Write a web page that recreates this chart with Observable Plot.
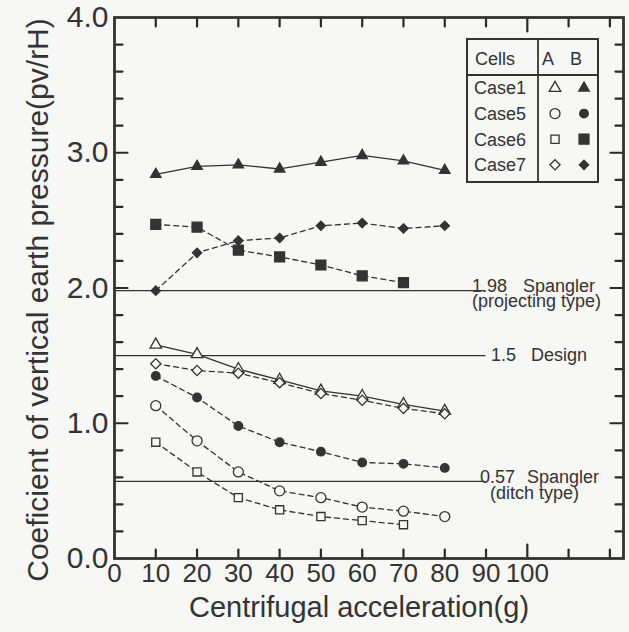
<!DOCTYPE html>
<html><head><meta charset="utf-8">
<script src="https://cdn.jsdelivr.net/npm/d3@7"></script>
<script src="https://cdn.jsdelivr.net/npm/@observablehq/plot@0.6"></script>
<style>
body{margin:0;background:#f7f7f5;}
#chart{position:relative;width:629px;height:632px;}
</style>
</head><body><div id="chart"></div>
<script>
// ---- data ----
const accel = [10, 20, 30, 40, 50, 60, 70, 80];
const case1A = [1.58, 1.51, 1.40, 1.32, 1.24, 1.20, 1.14, 1.09];
const case1B = [2.84, 2.90, 2.91, 2.88, 2.93, 2.98, 2.94, 2.87];
const case5A = [1.13, 0.87, 0.64, 0.50, 0.45, 0.38, 0.35, 0.31];
const case5B = [1.35, 1.19, 0.98, 0.86, 0.79, 0.71, 0.70, 0.67];
const case6A = [0.86, 0.64, 0.45, 0.36, 0.31, 0.28, 0.25];
const case6B = [2.47, 2.45, 2.28, 2.23, 2.17, 2.09, 2.04];
const case7A = [1.44, 1.39, 1.37, 1.30, 1.22, 1.17, 1.11, 1.07];
const case7B = [1.98, 2.26, 2.35, 2.37, 2.46, 2.48, 2.44, 2.46];
const refValues = [1.98, 1.5, 0.57];
const refNames = ["Spangler", "Design", "Spangler"];
const refSubs = ["(projecting type)", "", "(ditch type)"];
const legendCases = ["Case1", "Case5", "Case6", "Case7"];
const legendCells = ["A", "B"];
const xTickLabels = [0, 10, 20, 30, 40, 50, 60, 70, 80, 90, 100];
const yTickLabels = [0, 1, 2, 3, 4];
const xTicks = [10, 20, 30, 40, 50, 60, 70, 80, 90, 100, 110, 120];
const yTicks = [0.2, 0.4, 0.6, 0.8, 1, 1.2, 1.4, 1.6, 1.8, 2, 2.2, 2.4, 2.6, 2.8, 3, 3.2, 3.4, 3.6, 3.8];
const xLabel = "Centrifugal acceleration(g)";
const yLabel = "Coeficient of vertical earth pressure(pv/rH)";

// ---- styles ----
const ink = "#333";
const bg = "#f7f7f5";
const W = 629, H = 632, mL = 114, mR = 6, mT = 17, mB = 74;
const fw = W - mL - mR, fh = H - mT - mB;
const xMax = 123.3, yMax = 4;
const pxX = xMax / fw, pxY = yMax / fh;
const look = {
  Case1: {symbol: "triangle", dash: null, rA: 4.3, rB: 3.9, d3s: d3.symbolTriangle},
  Case5: {symbol: "circle", dash: "5,4", rA: 5, rB: 4.3, d3s: d3.symbolCircle},
  Case6: {symbol: "square", dash: "5,4", rA: 4.6, rB: 5.6, d3s: d3.symbolSquare},
  Case7: {symbol: "diamond2", dash: "5,4", rA: 4.6, rB: 4.2, d3s: d3.symbolDiamond2}
};

const series = [
  {name: "Case1", cell: "A", values: case1A},
  {name: "Case1", cell: "B", values: case1B},
  {name: "Case5", cell: "A", values: case5A},
  {name: "Case5", cell: "B", values: case5B},
  {name: "Case6", cell: "A", values: case6A},
  {name: "Case6", cell: "B", values: case6B},
  {name: "Case7", cell: "A", values: case7A},
  {name: "Case7", cell: "B", values: case7B}
];
const rowsOf = s => s.values.map((v, i) => ({g: accel[i], v}));
const refs = refValues.map((v, i) => ({v, name: refNames[i], sub: refSubs[i]}));

// inward tick segments as two-point polylines (all four sides)
const tickSegs = [];
xTicks.forEach((v, i) => {
  const len = (v === 100 ? 14 : 9) * pxY;
  tickSegs.push({id: "b" + i, x: v, y: 0}, {id: "b" + i, x: v, y: len});
  tickSegs.push({id: "t" + i, x: v, y: yMax}, {id: "t" + i, x: v, y: yMax - len});
});
yTicks.forEach((v, i) => {
  const len = (Number.isInteger(v) ? 13 : 8) * pxX;
  tickSegs.push({id: "l" + i, x: 0, y: v}, {id: "l" + i, x: len, y: v});
  tickSegs.push({id: "r" + i, x: xMax, y: v}, {id: "r" + i, x: xMax - len, y: v});
});

const marks = [];
marks.push(Plot.line(tickSegs, {x: "x", y: "y", z: "id", stroke: "#2a2a2a", strokeWidth: 2.2, curve: "linear"}));
// reference lines
marks.push(Plot.ruleY(refs, {y: "v", x1: 0, x2: 90, stroke: ink, strokeWidth: 1.2}));
// series lines then dots
for (const s of series) {
  const L = look[s.name];
  marks.push(Plot.line(rowsOf(s), {x: "g", y: "v", stroke: ink, strokeWidth: 1.3, strokeDasharray: L.dash}));
}
for (const s of series) {
  const L = look[s.name];
  marks.push(Plot.dot(rowsOf(s), {x: "g", y: "v", symbol: L.symbol, r: s.cell === "A" ? L.rA : L.rB,
    fill: s.cell === "A" ? bg : ink, stroke: ink, strokeWidth: 1.3}));
}
// reference annotations
const fs = 18;
marks.push(Plot.text([refs[0]], {x: 90, y: "v", text: d => String(d.v), textAnchor: "start", lineAnchor: "bottom", dx: -14, dy: 1, fontSize: fs, fill: ink}));
marks.push(Plot.text([refs[0]], {x: 90, y: "v", text: "name", textAnchor: "start", lineAnchor: "bottom", dx: 37, dy: 1, fontSize: fs, fill: ink}));
marks.push(Plot.text([refs[0]], {x: 90, y: "v", text: "sub", textAnchor: "start", lineAnchor: "top", dx: -14, dy: 4, fontSize: fs, fill: ink}));
marks.push(Plot.text([refs[1]], {x: 90, y: "v", text: d => String(d.v), textAnchor: "start", lineAnchor: "middle", dx: 5, fontSize: fs, fill: ink}));
marks.push(Plot.text([refs[1]], {x: 90, y: "v", text: "name", textAnchor: "start", lineAnchor: "middle", dx: 45, fontSize: fs, fill: ink}));
marks.push(Plot.text([refs[2]], {x: 90, y: "v", text: d => String(d.v), textAnchor: "start", lineAnchor: "bottom", dx: -6, dy: 2, fontSize: fs, fill: ink}));
marks.push(Plot.text([refs[2]], {x: 90, y: "v", text: "name", textAnchor: "start", lineAnchor: "bottom", dx: 41, dy: 2, fontSize: fs, fill: ink}));
marks.push(Plot.text([refs[2]], {x: 90, y: "v", text: "sub", textAnchor: "start", lineAnchor: "top", dx: 4, dy: 5, fontSize: fs, fill: ink}));

// tick labels
marks.push(Plot.axisX(xTickLabels, {anchor: "bottom", tickSize: 0, tickPadding: 5, label: null, fontSize: 26, tickFormat: d => String(d)}));
marks.push(Plot.axisY(yTickLabels, {anchor: "left", tickSize: 0, tickPadding: 6, label: null, fontSize: 30, tickFormat: d => d.toFixed(1)}));
// axis titles
marks.push(Plot.text([xLabel], {frameAnchor: "bottom", text: d => d, textAnchor: "middle", lineAnchor: "middle", dy: 49, dx: -10, fontSize: 29, fill: ink}));
marks.push(Plot.text([yLabel], {frameAnchor: "left", text: d => d, textAnchor: "middle", lineAnchor: "middle", dx: -76, dy: 12, rotate: -90, fontSize: 30, fill: ink}));
marks.push(Plot.frame({stroke: ink, strokeWidth: 2.8}));

const chart = Plot.plot({
  width: W, height: H,
  marginLeft: mL, marginRight: mR, marginTop: mT, marginBottom: mB,
  x: {domain: [0, xMax], axis: null},
  y: {domain: [0, yMax], axis: null},
  style: {background: bg, color: ink, fontFamily: "'Liberation Sans', Arial, sans-serif", overflow: "visible"},
  marks
});
document.getElementById("chart").appendChild(chart);

// ---- legend table (pixel layout) ----
const svg = d3.select(chart);
const lg = svg.append("g").attr("font-family", "'Liberation Sans', Arial, sans-serif").attr("font-size", 18).attr("fill", ink).attr("text-anchor", "start");
const bx = 467, by = 39, bw = 131, bh = 143, divX = 538, divY = 75;
lg.append("rect").attr("x", bx).attr("y", by).attr("width", bw).attr("height", bh).attr("fill", bg).attr("stroke", ink).attr("stroke-width", 2);
lg.append("line").attr("x1", divX).attr("x2", divX).attr("y1", by).attr("y2", by + bh).attr("stroke", ink).attr("stroke-width", 1.8);
lg.append("line").attr("x1", bx).attr("x2", bx + bw).attr("y1", divY).attr("y2", divY).attr("stroke", ink).attr("stroke-width", 1.8);
lg.append("text").attr("x", bx + 8).attr("y", 59).attr("dy", "0.35em").text("Cells");
const cellX = [548, 576];
legendCells.forEach((c, j) => lg.append("text").attr("x", cellX[j]).attr("y", 59).attr("dy", "0.35em").attr("text-anchor", "middle").text(c));
const symX = [555, 584];
legendCases.forEach((c, i) => {
  const cy = 88 + i * 25.6;
  lg.append("text").attr("x", bx + 7).attr("y", cy).attr("dy", "0.35em").text(c);
  const L = look[c];
  [L.rA, L.rB].forEach((r, j) => {
    lg.append("path").attr("transform", `translate(${symX[j]},${cy})`)
      .attr("d", d3.symbol(L.d3s, Math.PI * r * r)())
      .attr("fill", j === 0 ? bg : ink).attr("stroke", ink).attr("stroke-width", 1.3);
  });
});
</script>
</body></html>
